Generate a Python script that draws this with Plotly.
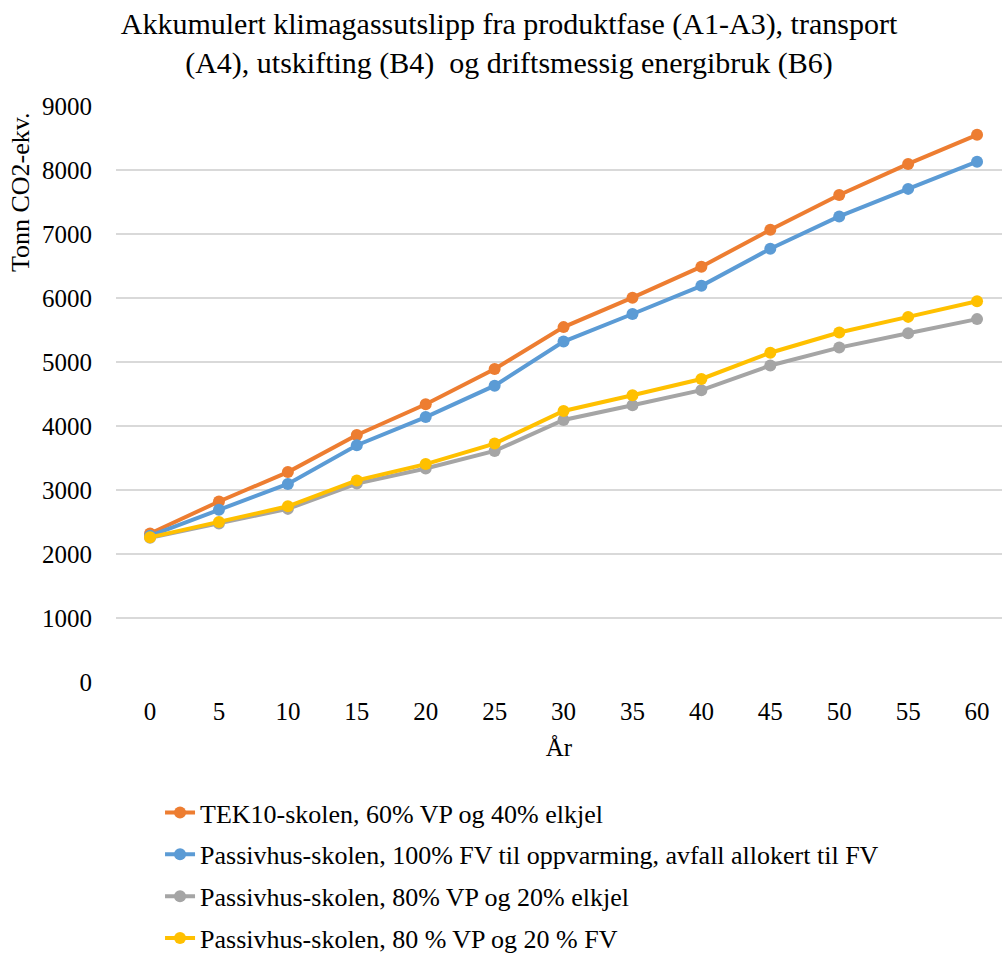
import plotly.graph_objects as go

years = [0, 5, 10, 15, 20, 25, 30, 35, 40, 45, 50, 55, 60]

series_names = [
    "TEK10-skolen, 60% VP og 40% elkjel",
    "Passivhus-skolen, 100% FV til oppvarming, avfall allokert til FV",
    "Passivhus-skolen, 80% VP og 20% elkjel",
    "Passivhus-skolen, 80 % VP og 20 % FV",
]
tek10 = [2320, 2820, 3280, 3860, 4340, 4890, 5545, 6005, 6490, 7065, 7610, 8095, 8550]
passiv_fv = [2285, 2690, 3095, 3700, 4140, 4630, 5320, 5750, 6190, 6770, 7275, 7705, 8130]
passiv_vp_elkjel = [2255, 2475, 2705, 3100, 3335, 3610, 4095, 4325, 4560, 4945, 5225, 5450, 5670]
passiv_vp_fv = [2260, 2500, 2745, 3150, 3405, 3725, 4235, 4480, 4735, 5145, 5460, 5705, 5950]

colors = ["#ED7D31", "#5B9BD5", "#A5A5A5", "#FFC000"]
y_ticks = [0, 1000, 2000, 3000, 4000, 5000, 6000, 7000, 8000, 9000]

FONT = "Liberation Serif"

fig = go.Figure()
for i, (name, vals) in enumerate(zip(series_names, [tek10, passiv_fv, passiv_vp_elkjel, passiv_vp_fv])):
    fig.add_trace(go.Scatter(
        x=years, y=vals, name=name, mode="lines+markers",
        line=dict(color=colors[i], width=4),
        marker=dict(color=colors[i], size=12),
        legendgroup=f"g{i}",
    ))

fig.update_layout(
    width=1002, height=953,
    margin=dict(l=116, r=0, t=106, b=271, autoexpand=False),
    paper_bgcolor="white", plot_bgcolor="white",
    font=dict(family=FONT, size=25, color="#000000"),
    title=dict(
        text="Akkumulert klimagassutslipp fra produktfase (A1-A3), transport<br>(A4), utskifting (B4)  og driftsmessig energibruk (B6)",
        x=0.508, xanchor="center", y=0.9645, yanchor="middle",
        font=dict(family=FONT, size=30, color="#000000"),
    ),
    xaxis=dict(
        range=[-2.47, 61.81], tickvals=years, ticktext=[str(y) for y in years],
        showgrid=False, zeroline=False, showline=False, automargin=False,
        ticks="outside", ticklen=7, tickcolor="rgba(0,0,0,0)",
        tickfont=dict(family=FONT, size=25),
        title=dict(text="År", font=dict(family=FONT, size=25), standoff=14),
    ),
    yaxis=dict(
        range=[0, 9000], tickvals=y_ticks, automargin=False,
        showgrid=True, gridcolor="#D9D9D9", gridwidth=1.5,
        zeroline=False, showline=False,
        ticks="outside", ticklen=18, tickcolor="rgba(0,0,0,0)",
        tickfont=dict(family=FONT, size=25),
    ),
    legend=dict(
        x=0.0497, xanchor="left", y=-0.186, yanchor="top",
        font=dict(family=FONT, size=26), tracegroupgap=5,
        bgcolor="rgba(0,0,0,0)",
    ),
    showlegend=True,
    annotations=[dict(
        text="Tonn CO2-ekv.", textangle=-90, xref="paper", yref="paper",
        x=-0.1083, y=0.993, xanchor="center", yanchor="top", showarrow=False,
        font=dict(family=FONT, size=26),
    )],
)

fig.write_html("out.html", config={"displayModeBar": False},
               post_script="document.body.style.margin='0';document.body.style.overflow='hidden';")
